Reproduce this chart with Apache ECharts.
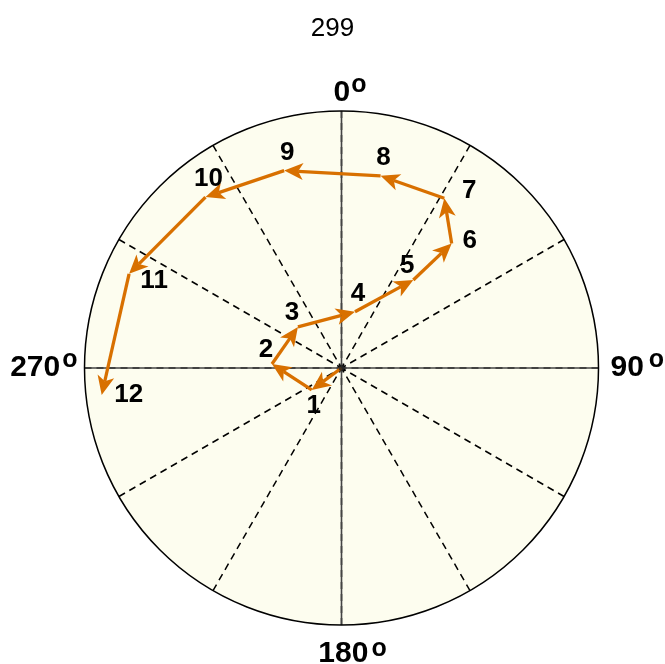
<!DOCTYPE html>
<html>
<head>
<meta charset="utf-8">
<title>299</title>
<script src="https://cdn.jsdelivr.net/npm/echarts@6/dist/echarts.min.js"></script>
<style>
  html, body { margin: 0; padding: 0; background: #ffffff; }
  #chart { width: 665px; height: 664px; }
</style>
</head>
<body>
<div id="chart"></div>
<script>
// Path of successive directions (degrees clockwise from north) and lengths (fraction of full radius)
const pointLabels = ['1', '2', '3', '4', '5', '6', '7', '8', '9', '10', '11', '12'];
const angles = [233.6, 273.3, 313.3, 13.5, 39.2, 41.5, 31.2, 11.5, 343.8, 321.5, 293.9, 263.6];
const radii = [0.144, 0.271, 0.233, 0.225, 0.442, 0.647, 0.772, 0.763, 0.800, 0.850, 0.904, 0.939];
// Which side of each point its number sits on
const labelSides = ['bottom', 'upleft', 'upleft', 'top', 'upleft', 'right', 'upright', 'top', 'top', 'top', 'downright', 'farright'];
const angleTicks = [0, 90, 180, 270];
const titleText = '299';

const ORANGE = '#D87000';
const FONT = '"Liberation Sans", Arial, sans-serif';

// Each segment runs from the previous point (the origin for the first) to the next one
const segments = radii.map((r, i) => [
  r, angles[i],
  i === 0 ? 0 : radii[i - 1],
  i === 0 ? 0 : angles[i - 1],
  i
]);

const sideOffset = {
  bottom:    { dx: 2,  dy: 16 },
  top:       { dx: 3,  dy: -18 },
  upleft:    { dx: -6, dy: -14 },
  right:     { dx: 18, dy: -3 },
  farright:  { dx: 27, dy: 0 },
  upright:   { dx: 25, dy: -7 },
  downright: { dx: 25, dy: 7 }
};

function renderArrow(params, api) {
  const tip = api.coord([api.value(0), api.value(1)]);
  const start = api.coord([api.value(2), api.value(3)]);
  const idx = api.value(4);
  const dx = tip[0] - start[0], dy = tip[1] - start[1];
  const len = Math.sqrt(dx * dx + dy * dy) || 1;
  const ux = dx / len, uy = dy / len;
  const nx = -uy, ny = ux;
  const headLen = 18, halfW = 8.5;
  const bx = tip[0] - ux * headLen, by = tip[1] - uy * headLen;
  const side = sideOffset[labelSides[idx]];
  return {
    type: 'group',
    children: [
      {
        type: 'line',
        shape: { x1: start[0], y1: start[1], x2: bx + ux * 4, y2: by + uy * 4 },
        style: { stroke: ORANGE, lineWidth: 3.3 }
      },
      {
        type: 'polygon',
        shape: {
          points: [
            tip,
            [bx + nx * halfW - ux * 1, by + ny * halfW - uy * 1],
            [bx + ux * 4, by + uy * 4],
            [bx - nx * halfW - ux * 1, by - ny * halfW - uy * 1]
          ]
        },
        style: { fill: ORANGE }
      },
      {
        type: 'text',
        x: tip[0] + side.dx,
        y: tip[1] + side.dy,
        style: {
          text: pointLabels[idx],
          fill: '#000',
          font: 'bold 26px ' + FONT,
          align: 'center',
          verticalAlign: 'middle'
        }
      }
    ]
  };
}

const center = [341.5, 368];
const R = 257;
const hiddenRadius = idx => ({
  polarIndex: idx, min: 0, max: 1,
  axisLine: { show: false }, axisTick: { show: false },
  axisLabel: { show: false }, splitLine: { show: false }
});

// Cardinal labels: digits plus a raised "o"
const digitStyle = { fontFamily: FONT, fontSize: 30, fontWeight: 'bold', color: '#000', lineHeight: 30 };
const ringStyle = { fontFamily: FONT, fontSize: 25, fontWeight: 'bold', color: '#000', lineHeight: 14 };
const ext = (base, extra) => Object.assign({}, base, extra);
const cardinalRich = {
  n0:   ext(digitStyle, { padding: [0, 0, 0, 17] }),
  n90:  ext(digitStyle, { padding: [0, 0, 0, 9] }),
  n180: ext(digitStyle, { padding: [22, 0, 0, 22] }),
  n270: digitStyle,
  s0:   ext(ringStyle, { padding: [0, 0, 16, 1] }),
  s90:  ext(ringStyle, { padding: [0, 0, 16, 5] }),
  s180: ext(ringStyle, { padding: [12, 0, 0, 3] }),
  s270: ext(ringStyle, { padding: [0, 4, 16, 2] })
};
function cardinalLabel(v) {
  if (angleTicks.indexOf(v) < 0) return '';
  return '{n' + v + '|' + v + '}{s' + v + '|o}';
}

const option = {
  backgroundColor: '#ffffff',
  animation: false,
  title: {
    text: titleText,
    left: 'center',
    top: 11,
    textStyle: { fontFamily: FONT, fontSize: 26, fontWeight: 'normal', color: '#000' }
  },
  polar: [
    { center: center, radius: R },
    { center: center, radius: R },
    { center: center, radius: R }
  ],
  angleAxis: [
    {
      // disc fill and outer rim
      polarIndex: 0,
      type: 'value',
      min: 0, max: 360, interval: 30,
      startAngle: 90, clockwise: true,
      axisLine: { show: true, lineStyle: { color: '#000', width: 1.5 } },
      axisTick: { show: false },
      axisLabel: { show: false },
      splitLine: { show: false },
      splitArea: { show: true, areaStyle: { color: ['#FDFDEF'] } }
    },
    {
      // dashed spokes every 30 degrees
      polarIndex: 1,
      type: 'value',
      min: 0, max: 360, interval: 30,
      startAngle: 90, clockwise: true,
      axisLine: { show: false },
      axisTick: { show: false },
      axisLabel: { show: false },
      splitLine: { show: true, lineStyle: { color: '#000', width: 1.5, type: [7, 5] } },
      splitArea: { show: false }
    },
    {
      // solid cardinal lines and their labels
      polarIndex: 2,
      type: 'value',
      min: 0, max: 360, interval: 90,
      startAngle: 90, clockwise: true,
      axisLine: { show: false },
      axisTick: { show: false },
      splitArea: { show: false },
      splitLine: { show: true, lineStyle: { color: '#444', width: 1.6 } },
      axisLabel: {
        show: true,
        margin: 3,
        formatter: cardinalLabel,
        rich: cardinalRich
      }
    }
  ],
  radiusAxis: [hiddenRadius(0), hiddenRadius(1), hiddenRadius(2)],
  series: [
    {
      type: 'custom',
      coordinateSystem: 'polar',
      polarIndex: 0,
      renderItem: renderArrow,
      encode: { radius: 0, angle: 1 },
      data: segments,
      z: 5
    },
    {
      type: 'scatter',
      coordinateSystem: 'polar',
      polarIndex: 0,
      symbol: 'circle',
      symbolSize: 6,
      itemStyle: { color: '#222' },
      data: [[0, 0]],
      z: 6
    }
  ]
};

const chart = echarts.init(document.getElementById('chart'), null, { renderer: 'canvas' });
chart.setOption(option);
</script>
</body>
</html>
